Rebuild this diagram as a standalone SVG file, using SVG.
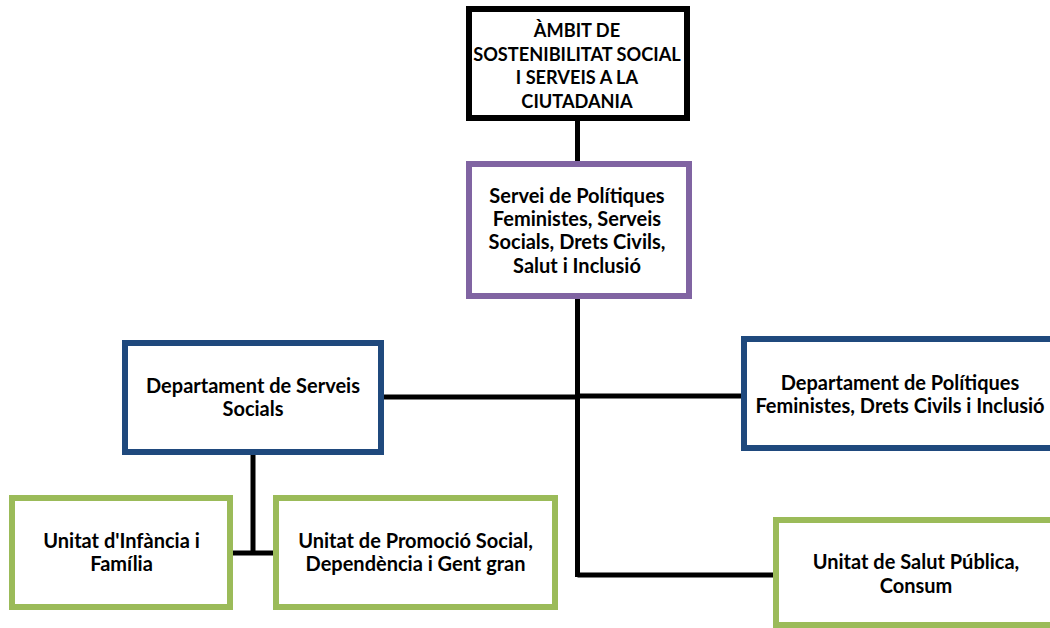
<svg xmlns="http://www.w3.org/2000/svg" width="1050" height="628" viewBox="0 0 1050 628">
<style>
.box{fill:#fff;stroke-width:6}
.k{stroke:#000}
.p{stroke:#8064A2}
.b{stroke:#1F497D}
.g{stroke:#9BBB59}
.conn line{stroke:#000;stroke-width:5}
text{font-family:Lato,"Liberation Sans",sans-serif;font-weight:bold;font-size:20px;fill:#000;text-anchor:middle}
.caps{font-size:18.2px}
</style>
<rect width="1050" height="628" fill="#fff"/>
<g id="connectors" class="conn">
<line x1="577.5" y1="118" x2="577.5" y2="164"/>
<line x1="577.5" y1="296" x2="577.5" y2="577"/>
<line x1="381" y1="397" x2="577.5" y2="397"/>
<line x1="577.5" y1="396" x2="744" y2="396"/>
<line x1="577.5" y1="575" x2="776" y2="575"/>
<line x1="253" y1="452" x2="253" y2="553"/>
<line x1="230" y1="553" x2="276" y2="553"/>
</g>
<g id="ambit">
<rect class="box k" x="469" y="9" width="218" height="109"/>
<text class="caps" x="577" y="37">ÀMBIT DE</text>
<text class="caps" x="577" y="60.5">SOSTENIBILITAT SOCIAL</text>
<text class="caps" x="577" y="84">I SERVEIS A LA</text>
<text class="caps" x="577" y="107.5">CIUTADANIA</text>
</g>
<g id="servei">
<rect class="box p" x="469" y="164" width="220" height="132"/>
<text x="577" y="203">Servei de Polítiques</text>
<text x="577" y="226">Feministes, Serveis</text>
<text x="577" y="249">Socials, Drets Civils,</text>
<text x="577" y="272.5">Salut i Inclusió</text>
</g>
<g id="dept-ss">
<rect class="box b" x="125" y="343" width="256" height="109"/>
<text x="253" y="393">Departament de Serveis</text>
<text x="253" y="416">Socials</text>
</g>
<g id="dept-pol">
<rect class="box b" x="744" y="339" width="320" height="109"/>
<text x="900" y="390">Departament de Polítiques</text>
<text x="900" y="413">Feministes, Drets Civils i Inclusió</text>
</g>
<g id="unitat-infancia">
<rect class="box g" x="12" y="498" width="218" height="109"/>
<text x="121.5" y="548">Unitat d'Infància i</text>
<text x="121.5" y="571">Família</text>
</g>
<g id="unitat-promocio">
<rect class="box g" x="276" y="498" width="279" height="109"/>
<text x="415.5" y="548">Unitat de Promoció Social,</text>
<text x="415.5" y="571">Dependència i Gent gran</text>
</g>
<g id="unitat-salut">
<rect class="box g" x="776" y="520" width="300" height="105"/>
<text x="916" y="569">Unitat de Salut Pública,</text>
<text x="916" y="593">Consum</text>
</g>
</svg>
